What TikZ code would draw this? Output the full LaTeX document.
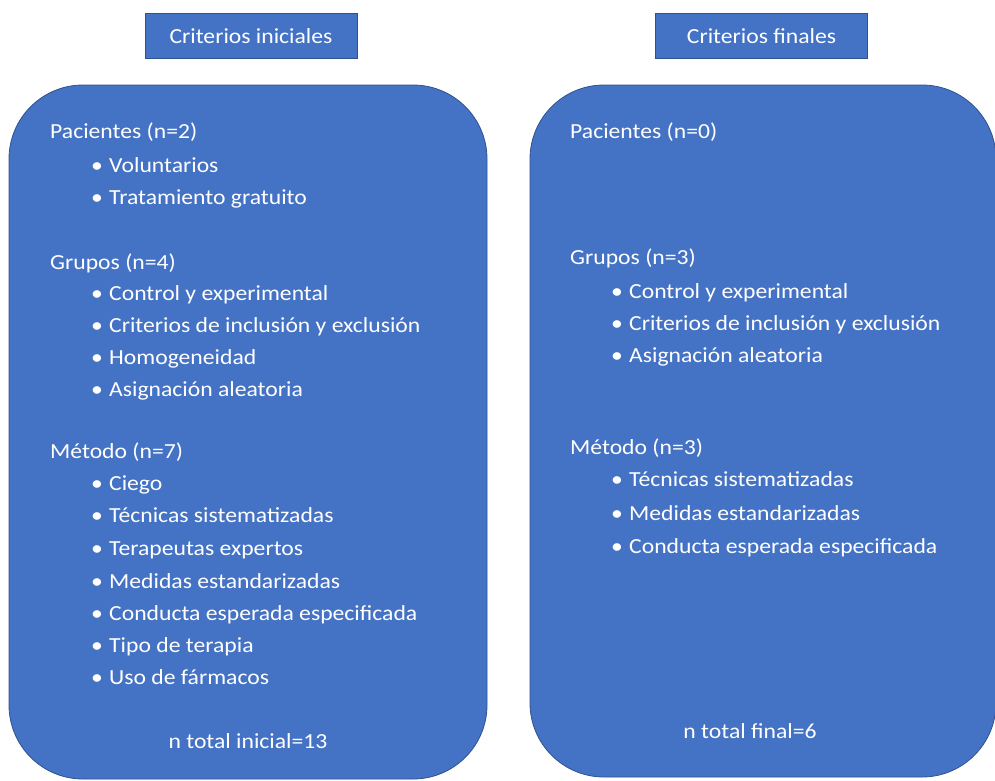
\documentclass[tikz,border=0pt]{standalone}
\usepackage{fontspec}
\setmainfont{Carlito}[FakeStretch=1.1]
\definecolor{officeblue}{HTML}{4472C4}
\definecolor{officeedge}{HTML}{2F528F}
\begin{document}
\begin{tikzpicture}[x=1pt,y=-1pt,
  panel/.style={fill=officeblue,draw=officeedge,line width=0.8pt},
  header/.style={fill=officeblue,draw=officeedge,line width=0.8pt,minimum width=212pt,minimum height=45pt,text=white,font=\fontsize{21.5}{24}\selectfont},
  txt/.style={anchor=west,inner sep=0pt,text=white,font=\fontsize{21.5}{24}\selectfont,text height=15pt,text depth=4pt},
  bul/.style={txt}]
\useasboundingbox (0,0) rectangle (995,780);
\newcommand{\bu}{\makebox[18pt][l]{\textbullet}}
% headers
\node[header] (h1) at (251,36) {Criterios iniciales};
\node[header] (h2) at (761.5,36) {Criterios finales};
% panels
\draw[panel,rounded corners=74pt] (9,85) rectangle (487,779);
\draw[panel,rounded corners=74pt] (530,85) rectangle (996,777);
\begin{scope}[yshift=-2pt]
% left texts
\node[txt] (lp) at (50,131) {Pacientes (n=2)};
\node[bul] (lp1) at (91,165) {\bu Voluntarios};
\node[bul] (lp2) at (91,197) {\bu Tratamiento gratuito};
\node[txt] (lg) at (50,262) {Grupos (n=4)};
\node[bul] (lg1) at (91,293) {\bu Control y experimental};
\node[bul] (lg2) at (91,325) {\bu Criterios de inclusión y exclusión};
\node[bul] (lg3) at (91,357) {\bu Homogeneidad};
\node[bul] (lg4) at (91,389) {\bu Asignación aleatoria};
\node[txt] (lm) at (50,451) {Método (n=7)};
\node[bul] (lm1) at (91,483) {\bu Ciego};
\node[bul] (lm2) at (91,515) {\bu Técnicas sistematizadas};
\node[bul] (lm3) at (91,548) {\bu Terapeutas expertos};
\node[bul] (lm4) at (91,581) {\bu Medidas estandarizadas};
\node[bul] (lm5) at (91,613) {\bu Conducta esperada especificada};
\node[bul] (lm6) at (91,645) {\bu Tipo de terapia};
\node[bul] (lm7) at (91,677) {\bu Uso de fármacos};
\node[txt,anchor=center] (lt) at (248,741) {n total inicial=13};
% right texts
\node[txt] (rp) at (570,131) {Pacientes (n=0)};
\node[txt] (rg) at (570,257) {Grupos (n=3)};
\node[bul] (rg1) at (611,291) {\bu Control y experimental};
\node[bul] (rg2) at (611,323) {\bu Criterios de inclusión y exclusión};
\node[bul] (rg3) at (611,355) {\bu Asignación aleatoria};
\node[txt] (rm) at (570,447) {Método (n=3)};
\node[bul] (rm1) at (611,479) {\bu Técnicas sistematizadas};
\node[bul] (rm2) at (611,513) {\bu Medidas estandarizadas};
\node[bul] (rm3) at (611,546) {\bu Conducta esperada especificada};
\node[txt,anchor=center] (rt) at (750,731) {n total final=6};
\end{scope}
\end{tikzpicture}
\end{document}
